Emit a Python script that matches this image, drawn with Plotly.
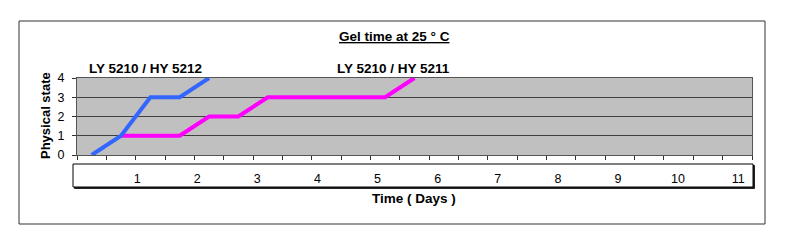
import plotly.graph_objects as go

# ---- data (days, physical state) ----
blue_x = [0.25, 0.75, 1.25, 1.75, 2.25]
blue_y = [0, 1, 3, 3, 4]
mag_x = [0.75, 1.25, 1.75, 2.25, 2.75, 3.25, 3.75, 4.25, 4.75, 5.25, 5.75]
mag_y = [1, 1, 1, 2, 2, 3, 3, 3, 3, 3, 4]
day_labels = [1, 2, 3, 4, 5, 6, 7, 8, 9, 10, 11]
y_ticks = [0, 1, 2, 3, 4]

W, H = 788, 240
L, R, T, B = 77, 36, 78, 85
PW, PH = W - L - R, H - T - B

def px(x):
    return (x - L) / PW

def py(y):
    return (H - B - y) / PH

FONT = "Liberation Sans, Arial, sans-serif"

fig = go.Figure()
fig.add_trace(go.Scatter(x=mag_x, y=mag_y, mode="lines",
                         line=dict(color="#FF00FF", width=4), showlegend=False,
                         hoverinfo="skip"))
fig.add_trace(go.Scatter(x=blue_x, y=blue_y, mode="lines",
                         line=dict(color="#3366FF", width=4), showlegend=False,
                         hoverinfo="skip"))
# invisible trace to activate label axis
fig.add_trace(go.Scatter(x=[day_labels[0]], y=[0], xaxis="x2", mode="markers",
                         marker=dict(opacity=0), showlegend=False, hoverinfo="skip"))

shapes = [
    # outer frame
    dict(type="rect", xref="paper", yref="paper", x0=px(19), x1=px(765), y0=py(224), y1=py(21),
         line=dict(color="#333333", width=1), fillcolor="rgba(0,0,0,0)", layer="below"),
    # label box shadow
    dict(type="rect", xref="paper", yref="paper", x0=px(74.5), x1=px(754.5), y0=py(188.5), y1=py(165.5),
         line=dict(color="#222222", width=1), fillcolor="#222222", layer="below"),
    # label box
    dict(type="rect", xref="paper", yref="paper", x0=px(73), x1=px(753), y0=py(187), y1=py(164),
         line=dict(color="#000000", width=1), fillcolor="#FFFFFF", layer="below"),
]

def ann(text, x, y, size, angle=0):
    return dict(text=text, x=px(x), y=py(y), xref="paper", yref="paper",
                xanchor="center", yanchor="middle", showarrow=False, textangle=angle,
                font=dict(size=size, color="black", family=FONT))

annotations = [
    ann("<b><u>Gel time at 25 ° C</u></b>", 394, 37, 13.5),
    ann("<b>LY 5210 / HY 5212</b>", 145, 68, 13.5),
    ann("<b>LY 5210 / HY 5211</b>", 393, 68, 13.5),
    ann("<b>Time ( Days )</b>", 414, 198, 13.5),
    ann("<b>Physical state</b>", 45, 116, 13, -90),
]

fig.update_layout(
    width=W, height=H,
    margin=dict(l=L, r=R, t=T, b=B, pad=0),
    paper_bgcolor="white",
    plot_bgcolor="#C0C0C0",
    font=dict(family=FONT, size=12, color="black"),
    shapes=shapes,
    annotations=annotations,
    xaxis=dict(range=[0, 11.5], tickmode="linear", tick0=0, dtick=0.5,
               showticklabels=False, ticks="outside", ticklen=4, tickcolor="#333333",
               showgrid=False, zeroline=False, showline=True, linecolor="#555555",
               mirror=True, fixedrange=True),
    xaxis2=dict(overlaying="x", anchor="y", side="bottom", range=[0, 11.23],
                tickmode="array", tickvals=day_labels, ticktext=[str(d) for d in day_labels],
                ticks="outside", ticklen=12, tickcolor="rgba(0,0,0,0)",
                showgrid=False, zeroline=False, showline=False,
                tickfont=dict(size=12.5, color="black", family=FONT), fixedrange=True),
    yaxis=dict(range=[0, 4], tickmode="array", tickvals=y_ticks,
               ticks="outside", ticklen=4, tickcolor="#333333", ticklabelstandoff=5,
               showgrid=True, gridcolor="#404040", gridwidth=1,
               zeroline=False, showline=True, linecolor="#555555", mirror=True,
               tickfont=dict(size=12.5, color="black", family=FONT), fixedrange=True),
)

fig.write_html("out.html")
